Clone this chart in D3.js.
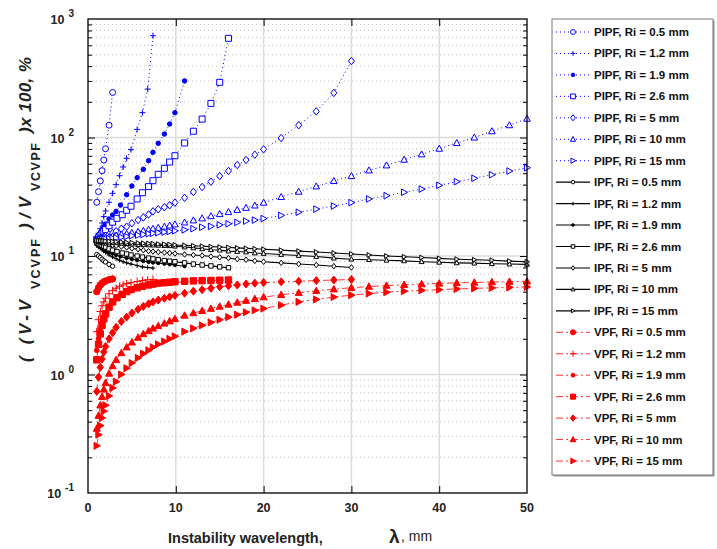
<!DOCTYPE html>
<html><head><meta charset="utf-8">
<script src="https://cdn.jsdelivr.net/npm/d3@7"></script>
<style>body{margin:0;background:#fff} text{font-family:"Liberation Sans",Arial,sans-serif}</style>
</head><body><svg id="c" width="717" height="549"></svg>
<script>
// ---- data (lambda in mm, values in %) ----
const lam05 = [1.0,1.2,1.4,1.6,1.8,2.0,2.4,2.8];
const lam12 = [1.0,1.2,1.4,1.6,1.8,2.0,2.4,2.8,3.2,3.6,4.0,4.4,4.9,5.6,6.2,6.8,7.4];
const lam19 = [1.0,1.2,1.4,1.6,1.8,2.0,2.4,2.8,3.2,3.7,4.4,5.0,5.6,6.3,6.9,7.4,8.0,8.7,9.3,9.9,11];
const lam26 = [1.0,1.2,1.4,1.6,1.8,2.0,2.4,2.8,3.3,3.9,4.4,4.9,5.6,6.2,6.9,7.4,8.0,8.7,9.3,9.9,11,12,13,14,15,16];
const lam5  = [1.0,1.2,1.4,1.6,1.8,2.0,2.4,2.8,3.2,3.8,4.4,5.0,5.7,6.3,6.9,7.4,8.0,8.7,9.3,9.9,11,12,13,14,15,16,17,18,19,20,22,24,26,28,30];
const lamLong = [1.0,1.2,1.4,1.6,1.8,2.0,2.4,2.8,3.2,3.8,4.4,5.0,5.7,6.3,6.9,7.4,8.0,8.7,9.3,9.9,11,12,13,14,15,16,17,18,19,20,22,24,26,28,30,32,34,36,38,40,42,44,46,48,50];

const pipf05 = [28.4,34.9,43,52.5,64.6,80.4,127,240];
const pipf12 = [14.5,15.5,17,19,21.5,24,28.4,33.8,40,47.6,56.4,66.7,79,117,162,256,723];
const pipf19 = [14,14.8,15.7,16.6,17.6,18.6,20.5,22.2,23.8,26.9,32.9,39,45.8,53.9,63.7,75,89.3,107,130,162,300];
const pipf26 = [13.8,14.3,14.9,15.5,16.1,16.7,18,19.3,20.8,22.3,24.3,26.3,30.3,34.2,38.5,43.2,48.9,55,62.1,70.2,89.9,113,143,194,292,687];
const pipf5  = [13.7,14,14.2,14.4,14.6,14.8,15.2,15.6,16.2,17,17.7,18.9,20.1,21.2,22.4,23.8,24.8,25.8,26.8,28.2,31,34.7,38.2,42.4,47.3,52.2,58.6,64.6,71.6,79.5,99,127,166,238,442];
const pipf10 = [13.8,13.9,14.0,14.1,14.2,14.3,14.5,14.7,14.9,15.2,15.4,15.7,16.0,16.3,16.7,17.0,17.3,17.7,18.1,18.5,19.2,20,20.8,21.7,22.6,23.5,24.5,25.5,26.7,28.2,31.5,34.9,38.7,43,47.3,52.8,58.2,65,72.1,80.5,89.9,100,113,127,144];
const pipf15 = [13.6,13.65,13.7,13.8,13.85,13.9,14.0,14.1,14.2,14.4,14.6,14.8,15.0,15.2,15.4,15.55,15.7,15.9,16.1,16.3,16.6,17,17.5,17.8,18.3,18.7,19.2,19.7,20.1,20.7,22,23.4,24.9,26.4,28.2,30.3,32.3,34.5,36.7,39.5,42.4,45.3,48.5,52.1,55.6];

const ipf05 = [10.3,10.0,9.7,9.4,9.1,8.9,8.5,8.2];
const ipf12 = [12.2,11.9,11.6,11.3,11.0,10.7,10.2,9.8,9.5,9.2,8.95,8.75,8.55,8.3,8.1,8.0,7.9];
const ipf19 = [12.6,12.3,12.0,11.7,11.4,11.2,10.8,10.5,10.2,9.9,9.6,9.4,9.2,9.05,8.9,8.8,8.7,8.6,8.5,8.4,8.2];
const ipf26 = [13.0,12.7,12.5,12.3,12.1,11.9,11.5,11.2,10.9,10.6,10.4,10.2,10.0,9.8,9.6,9.45,9.3,9.15,9.05,8.95,8.75,8.55,8.4,8.25,8.1,7.97];
const ipf5  = [13.3,13.2,13.1,13.0,12.9,12.8,12.6,12.4,12.2,12.0,11.8,11.6,11.4,11.2,11.0,10.9,10.8,10.7,10.6,10.5,10.3,10.2,10.1,9.9,9.75,9.6,9.4,9.3,9.1,8.95,8.75,8.55,8.4,8.2,8.0];
const ipf10 = [13.4,13.35,13.3,13.25,13.2,13.15,13.05,13.0,12.9,12.8,12.7,12.6,12.5,12.45,12.4,12.35,12.3,12.25,12.2,12.1,11.9,11.7,11.5,11.3,11.2,11.0,10.9,10.8,10.6,10.5,10.3,10.1,9.9,9.6,9.4,9.3,9.2,9.1,8.95,8.85,8.75,8.7,8.6,8.55,8.5];
const ipf15 = [13.5,13.45,13.45,13.4,13.4,13.35,13.3,13.25,13.2,13.1,13.0,12.95,12.85,12.8,12.75,12.7,12.6,12.55,12.5,12.4,12.3,12.2,12.1,12.0,11.9,11.8,11.7,11.6,11.5,11.4,11.2,11.0,10.8,10.6,10.4,10.2,10.0,9.85,9.7,9.55,9.4,9.3,9.2,9.05,8.95];

const vpf05 = [5.0,5.4,5.7,5.9,6.05,6.15,6.3,6.4];
const vpf12 = [2.3,2.9,3.4,3.8,4.1,4.4,4.8,5.1,5.35,5.55,5.7,5.85,5.95,6.1,6.2,6.3,6.35];
const vpf19 = [1.6,2.0,2.4,2.75,3.05,3.3,3.75,4.1,4.4,4.7,5.0,5.2,5.4,5.55,5.65,5.75,5.82,5.88,5.93,5.97,6.05];
const vpf26 = [1.33,1.8,2.2,2.6,2.95,3.25,3.7,4.1,4.45,4.75,5.0,5.2,5.4,5.55,5.7,5.8,5.9,5.95,6.0,6.07,6.12,6.17,6.2,6.22,6.25,6.27];
const vpf5  = [0.72,0.95,1.15,1.35,1.55,1.72,2.0,2.25,2.5,2.8,3.05,3.3,3.55,3.75,3.95,4.1,4.25,4.4,4.52,4.65,4.85,5.05,5.2,5.35,5.5,5.6,5.7,5.8,5.9,5.97,6.05,6.12,6.2,6.27,6.33];
const vpf10 = [0.35,0.45,0.55,0.65,0.75,0.85,1.02,1.18,1.33,1.52,1.7,1.87,2.05,2.2,2.33,2.45,2.57,2.7,2.82,2.95,3.15,3.3,3.45,3.6,3.75,3.9,4.05,4.2,4.35,4.5,4.7,4.9,5.08,5.25,5.4,5.52,5.63,5.72,5.8,5.87,5.93,5.98,6.03,6.08,6.12];
const vpf15 = [0.25,0.31,0.37,0.43,0.49,0.55,0.66,0.77,0.87,1.0,1.13,1.25,1.38,1.5,1.6,1.7,1.8,1.9,2.0,2.1,2.3,2.45,2.6,2.75,2.9,3.05,3.2,3.35,3.48,3.6,3.85,4.1,4.3,4.5,4.67,4.82,4.95,5.05,5.13,5.2,5.27,5.33,5.38,5.43,5.48];

const xTicks = [0,10,20,30,40,50];
const yDecades = [0.1,1,10,100,1000];
const yExps = ["-1","0","1","2","3"];
const riLabels = ["0.5","1.2","1.9","2.6","5","10","15"];
const shapes = ["circle","plus","dot","square","diamond","triUp","triRight"];

// ---- build series ----
const lams = [lam05,lam12,lam19,lam26,lam5,lamLong,lamLong];
const groups = [
  {key:"PIPF", vals:[pipf05,pipf12,pipf19,pipf26,pipf5,pipf10,pipf15], color:"#0000ff", kind:"pipf"},
  {key:"IPF",  vals:[ipf05,ipf12,ipf19,ipf26,ipf5,ipf10,ipf15], color:"#000000", kind:"ipf"},
  {key:"VPF",  vals:[vpf05,vpf12,vpf19,vpf26,vpf5,vpf10,vpf15], color:"#ff0000", kind:"vpf"}
];
const series = [];
groups.forEach(g => g.vals.forEach((v,i) => series.push({
  name: g.key + ", Ri = " + riLabels[i] + " mm", color: g.color, kind: g.kind, shape: shapes[i],
  pts: lams[i].map((l,j) => [l, v[j]])
})));

const svg = d3.select("#c");
const x = d3.scaleLinear().domain([0,50]).range([88,527]);
const y = d3.scaleLog().domain([0.1,1000]).range([493,19]);
const X0=x(0), X1=x(50), Y0=y(1000), Y1=y(0.1);

// ---- grid ----
const minors = [];
[0.1,1,10,100].forEach(d => { for (let k=2;k<=9;k++) minors.push(d*k); });
svg.append("g").selectAll("line").data(minors).join("line")
  .attr("x1",X0).attr("x2",X1).attr("y1",d=>y(d)).attr("y2",d=>y(d))
  .attr("stroke","#b0b0b0").attr("stroke-width",0.8).attr("stroke-dasharray","1,3");
svg.append("g").selectAll("line").data([1,10,100]).join("line")
  .attr("x1",X0).attr("x2",X1).attr("y1",d=>y(d)).attr("y2",d=>y(d))
  .attr("stroke","#dcdcdc").attr("stroke-width",1.5);
svg.append("g").selectAll("line").data([10,20,30,40]).join("line")
  .attr("x1",d=>x(d)).attr("x2",d=>x(d)).attr("y1",Y0).attr("y2",Y1)
  .attr("stroke","#dcdcdc").attr("stroke-width",1.5);

// ---- axes ticks (inside) ----
function styleAxis(g){ g.select(".domain").remove(); g.selectAll("line").attr("stroke","#000"); g.selectAll("text").remove(); }
svg.append("g").attr("transform",`translate(${X0},0)`).call(d3.axisRight(y).tickValues([1,10,100]).tickSize(7)).call(styleAxis);
svg.append("g").attr("transform",`translate(${X0},0)`).call(d3.axisRight(y).tickValues(minors).tickSize(4)).call(styleAxis);
svg.append("g").attr("transform",`translate(${X1},0)`).call(d3.axisLeft(y).tickValues([1,10,100]).tickSize(7)).call(styleAxis);
svg.append("g").attr("transform",`translate(${X1},0)`).call(d3.axisLeft(y).tickValues(minors).tickSize(4)).call(styleAxis);
svg.append("g").attr("transform",`translate(0,${Y1})`).call(d3.axisTop(x).tickValues([10,20,30,40]).tickSize(7)).call(styleAxis);
svg.append("g").attr("transform",`translate(0,${Y0})`).call(d3.axisBottom(x).tickValues([10,20,30,40]).tickSize(7)).call(styleAxis);

// ---- series ----
function shapePath(shape, s){
  switch(shape){
    case "circle": return `M${-s},0a${s},${s} 0 1,0 ${2*s},0a${s},${s} 0 1,0 ${-2*s},0Z`;
    case "dot": { const r=s*0.75; return `M${-r},0a${r},${r} 0 1,0 ${2*r},0a${r},${r} 0 1,0 ${-2*r},0Z`; }
    case "plus": return `M${-s},0H${s}M0,${-s}V${s}`;
    case "square": return `M${-s},${-s}H${s}V${s}H${-s}Z`;
    case "diamond": return `M0,${-s*1.25}L${s},0L0,${s*1.25}L${-s},0Z`;
    case "triUp": return `M0,${-s*1.15}L${s*1.1},${s*0.85}L${-s*1.1},${s*0.85}Z`;
    case "triRight": return `M${s*1.15},0L${-s*0.85},${-s*1.1}L${-s*0.85},${s*1.1}Z`;
  }
}
const styles = {
  pipf: {dash:"1,3", lw:1, size:3, open:true, mw:1},
  ipf:  {dash:null, lw:1.1, size:2.2, open:true, mw:1},
  vpf:  {dash:"7,3,2,3", lw:1, size:3.2, open:false, mw:1}
};
function markerAttrs(sel, s, st){
  const filled = !st.open || s.shape==="dot";
  sel.attr("d", shapePath(s.shape, st.size * (s.kind==="vpf" && s.shape==="plus" ? 1.2 : 1)))
     .attr("fill", s.shape==="plus" ? "none" : (filled ? s.color : "#fff"))
     .attr("stroke", s.color).attr("stroke-width", st.mw);
}
const line = d3.line().x(d=>x(d[0])).y(d=>y(d[1]));
const plot = svg.append("g");
series.forEach(s => {
  const st = styles[s.kind];
  const g = plot.append("g");
  g.append("path").datum(s.pts).attr("d", line).attr("fill","none")
    .attr("stroke", s.color).attr("stroke-width", st.lw)
    .attr("stroke-opacity", s.kind==="vpf" ? 0.8 : 1)
    .attr("stroke-dasharray", st.dash);
  g.selectAll("path.m").data(s.pts).join("path").attr("class","m")
    .attr("transform", d=>`translate(${x(d[0])},${y(d[1])})`)
    .call(sel => markerAttrs(sel, s, st));
});

// ---- frame ----
svg.append("rect").attr("x",X0).attr("y",Y0).attr("width",X1-X0).attr("height",Y1-Y0)
  .attr("fill","none").attr("stroke","#000").attr("stroke-width",1.3);

// ---- tick labels ----
svg.append("g").selectAll("text").data(xTicks).join("text")
  .attr("x",d=>x(d)).attr("y",512).attr("text-anchor","middle")
  .attr("font-size",12.5).attr("font-weight","bold").attr("fill","#222").text(d=>d);
const yl = svg.append("g").selectAll("text").data(yDecades).join("text")
  .attr("x",74).attr("y",d=>y(d)+5).attr("text-anchor","end")
  .attr("font-size",12.5).attr("font-weight","bold").attr("fill","#222");
yl.append("tspan").text("10");
yl.append("tspan").attr("dx",4).attr("dy",-7).attr("font-size",10).text((d,i)=>yExps[i]);

// ---- axis titles ----
svg.append("text").attr("x",168).attr("y",543).attr("font-size",14.5).attr("font-weight","bold").attr("fill","#222").text("Instability wavelength,");
svg.append("text").attr("x",389).attr("y",543).attr("font-family","Liberation Serif, serif")
  .attr("font-size",19).attr("font-weight","bold").attr("fill","#222").text("λ");
svg.append("text").attr("x",401).attr("y",541).attr("font-size",14).attr("fill","#222").text(", mm");

const ytPieces = [
  {t:"( (V-V", bx:31, by:362, len:62, fs:17, it:true},
  {t:"VCVPF", bx:40, by:289, len:50, fs:12.5, it:false},
  {t:")/V", bx:31, by:229, len:32, fs:17, it:true},
  {t:"VCVPF", bx:40, by:191, len:48, fs:12.5, it:false},
  {t:")x 100, %", bx:31, by:133, len:76, fs:17, it:true}
];
svg.append("g").selectAll("text").data(ytPieces).join("text")
  .attr("transform",d=>`translate(${d.bx},${d.by}) rotate(-90)`)
  .attr("font-size",d=>d.fs).attr("font-weight","bold")
  .attr("font-style",d=>d.it?"italic":"normal").attr("fill","#222")
  .attr("textLength",d=>d.len).attr("lengthAdjust","spacing").text(d=>d.t);

// ---- legend ----
const LX=552, LY=19, LW=161, LH=456;
svg.append("rect").attr("x",LX+1.5).attr("y",LY+1.5).attr("width",LW).attr("height",LH).attr("fill","#999");
svg.append("rect").attr("x",LX).attr("y",LY).attr("width",LW).attr("height",LH).attr("fill","#fff").attr("stroke","#777").attr("stroke-width",1);
const leg = svg.append("g").selectAll("g").data(series).join("g")
  .attr("transform",(d,i)=>`translate(${LX},${32 + i*21.45})`);
leg.append("line").attr("x1",4).attr("x2",38).attr("y1",0).attr("y2",0)
  .attr("stroke",d=>d.color).attr("stroke-width",d=>styles[d.kind].lw)
  .attr("stroke-opacity",d=>d.kind==="vpf"?0.8:1)
  .attr("stroke-dasharray",d=>styles[d.kind].dash);
leg.each(function(s){
  const st = Object.assign({}, styles[s.kind], {size: styles[s.kind].size*0.8});
  d3.select(this).append("path").attr("transform","translate(21,0)").call(sel=>markerAttrs(sel, s, st));
});
leg.append("text").attr("x",42).attr("y",4).attr("font-size",11.5).attr("font-weight","bold").attr("fill","#111").text(d=>d.name);
</script></body></html>
